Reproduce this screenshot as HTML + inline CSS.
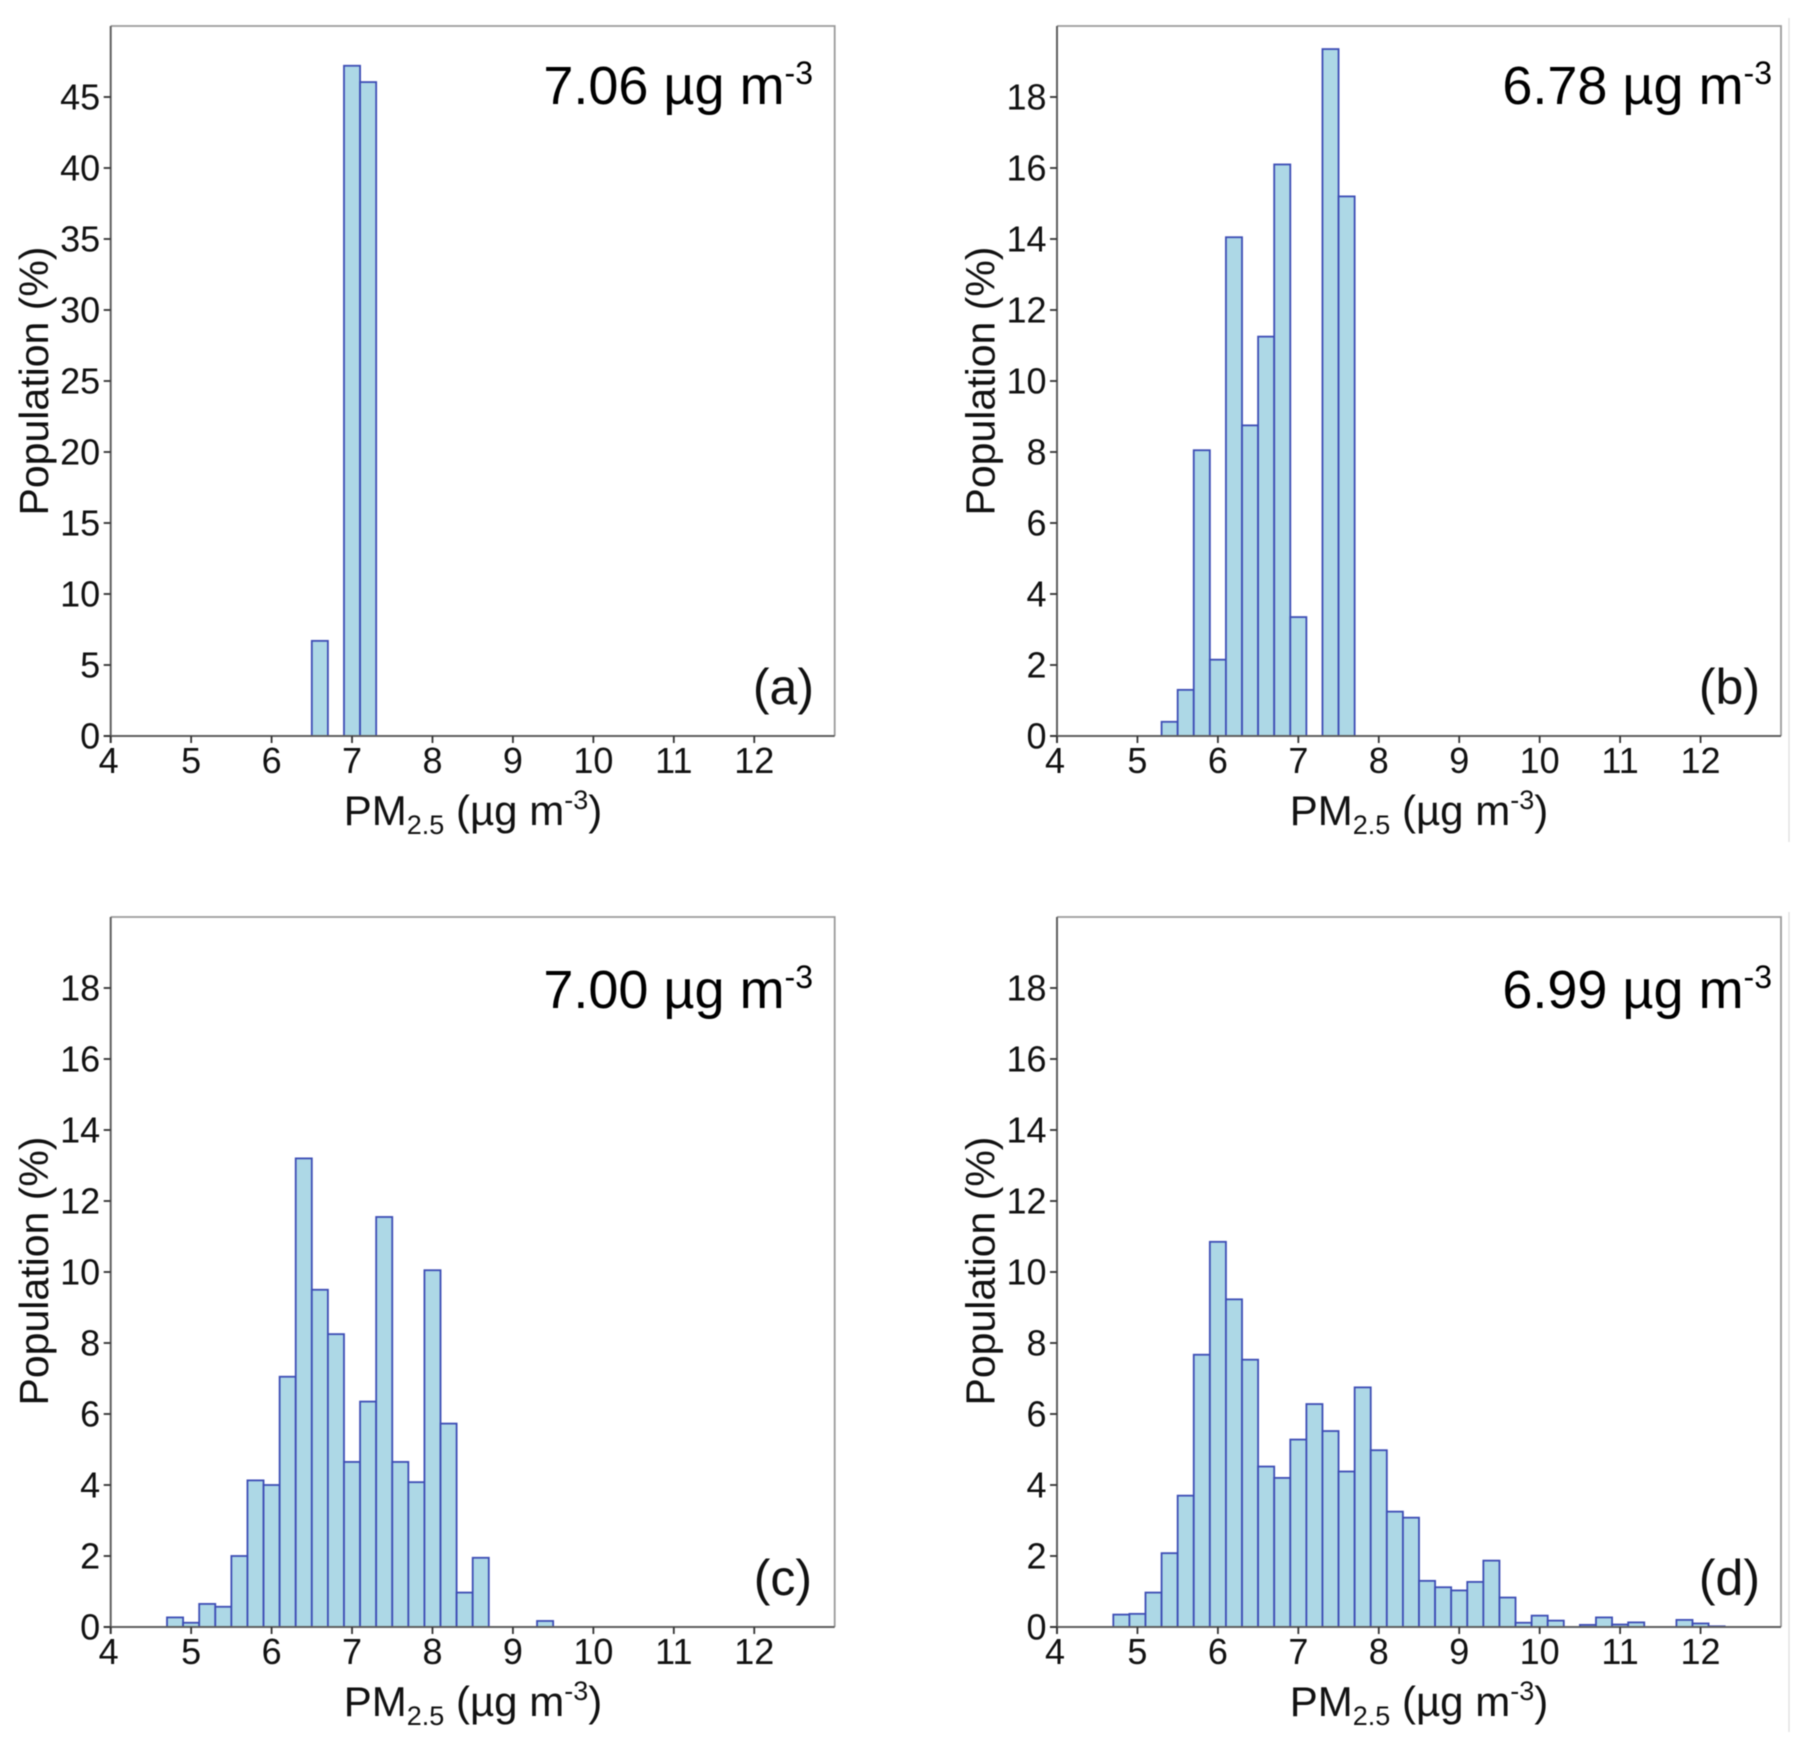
<!DOCTYPE html>
<html lang="en">
<head>
<meta charset="utf-8">
<title>PM2.5 population histograms</title>
<style>
html,body{margin:0;padding:0;background:#fff;}
svg{display:block;filter:blur(0.45px);}
text{font-family:"Liberation Sans",Arial,sans-serif;fill:#111;}
.tick{font-size:36px;}
.ytitle{font-size:41px;}
.xtitle{font-size:42px;}
.ann{font-size:54px;fill:#000;}
.tag{font-size:50px;}
</style>
</head>
<body>
<svg id="figure" xmlns="http://www.w3.org/2000/svg" width="1808" height="1759" viewBox="0 0 1808 1759">
  <rect x="0" y="0" width="1808" height="1759" fill="#fff"/>
  <line x1="1789" y1="18" x2="1789" y2="842" stroke="#dddddd" stroke-width="1.2"/>
  <line x1="1789" y1="912" x2="1789" y2="1732" stroke="#dddddd" stroke-width="1.2"/>

  <g id="panel-a"></g>
  <g id="panel-b"></g>
  <g id="panel-c"></g>
  <g id="panel-d"></g>

  <g>
    <text class="ytitle" text-anchor="middle" transform="translate(48,381) rotate(-90)">Population (%)</text>
    <text class="xtitle" text-anchor="middle" x="473" y="825">PM<tspan font-size="27" dy="9">2.5</tspan><tspan dy="-9"> (µg m</tspan><tspan font-size="27" dy="-16">-3</tspan><tspan dy="16">)</tspan></text>
    <text class="ann" text-anchor="end" x="813" y="104">7.06 µg m<tspan font-size="32" dy="-20">-3</tspan></text>
    <text class="tag" text-anchor="end" x="814" y="704">(a)</text>
  </g>
  <g>
    <text class="ytitle" text-anchor="middle" transform="translate(994.3,381) rotate(-90)">Population (%)</text>
    <text class="xtitle" text-anchor="middle" x="1419" y="825">PM<tspan font-size="27" dy="9">2.5</tspan><tspan dy="-9"> (µg m</tspan><tspan font-size="27" dy="-16">-3</tspan><tspan dy="16">)</tspan></text>
    <text class="ann" text-anchor="end" x="1772" y="104">6.78 µg m<tspan font-size="32" dy="-20">-3</tspan></text>
    <text class="tag" text-anchor="end" x="1760" y="704">(b)</text>
  </g>
  <g>
    <text class="ytitle" text-anchor="middle" transform="translate(48,1271) rotate(-90)">Population (%)</text>
    <text class="xtitle" text-anchor="middle" x="473" y="1716">PM<tspan font-size="27" dy="9">2.5</tspan><tspan dy="-9"> (µg m</tspan><tspan font-size="27" dy="-16">-3</tspan><tspan dy="16">)</tspan></text>
    <text class="ann" text-anchor="end" x="813" y="1008">7.00 µg m<tspan font-size="32" dy="-20">-3</tspan></text>
    <text class="tag" text-anchor="end" x="812" y="1595">(c)</text>
  </g>
  <g>
    <text class="ytitle" text-anchor="middle" transform="translate(994.3,1271) rotate(-90)">Population (%)</text>
    <text class="xtitle" text-anchor="middle" x="1419" y="1716">PM<tspan font-size="27" dy="9">2.5</tspan><tspan dy="-9"> (µg m</tspan><tspan font-size="27" dy="-16">-3</tspan><tspan dy="16">)</tspan></text>
    <text class="ann" text-anchor="end" x="1772" y="1008">6.99 µg m<tspan font-size="32" dy="-20">-3</tspan></text>
    <text class="tag" text-anchor="end" x="1760" y="1595">(d)</text>
  </g>
</svg>

<script>
// Shared x axis
const xTickLabels = [4, 5, 6, 7, 8, 9, 10, 11, 12];
const binWidth = 0.2;

// Panel (a)
const binsA = [6.5, 6.7, 6.9, 7.1];
const valuesA = [6.7, 0, 47.2, 46.05];
const yTicksA = [0, 5, 10, 15, 20, 25, 30, 35, 40, 45];

// Panel (b)
const binsB = [5.3, 5.5, 5.7, 5.9, 6.1, 6.3, 6.5, 6.7, 6.9, 7.1, 7.3, 7.5];
const valuesB = [0.4, 1.3, 8.05, 2.15, 14.05, 8.75, 11.25, 16.1, 3.35, 0, 19.35, 15.2];
const yTicksB = [0, 2, 4, 6, 8, 10, 12, 14, 16, 18];

// Panel (c)
const binsC = [4.7, 4.9, 5.1, 5.3, 5.5, 5.7, 5.9, 6.1, 6.3, 6.5, 6.7, 6.9, 7.1, 7.3, 7.5, 7.7, 7.9, 8.1, 8.3, 8.5, 8.7, 8.9, 9.1, 9.3];
const valuesC = [0.27, 0.12, 0.65, 0.57, 2.0, 4.13, 4.0, 7.05, 13.2, 9.5, 8.25, 4.65, 6.35, 11.55, 4.65, 4.08, 10.05, 5.73, 0.97, 1.95, 0, 0, 0, 0.17];
const yTicksC = [0, 2, 4, 6, 8, 10, 12, 14, 16, 18];

// Panel (d)
const binsD = [4.7, 4.9, 5.1, 5.3, 5.5, 5.7, 5.9, 6.1, 6.3, 6.5, 6.7, 6.9, 7.1, 7.3, 7.5, 7.7, 7.9, 8.1, 8.3, 8.5, 8.7, 8.9, 9.1, 9.3, 9.5, 9.7, 9.9, 10.1, 10.3, 10.5, 10.7, 10.9, 11.1, 11.3, 11.5, 11.7, 11.9, 12.1];
const valuesD = [0.35, 0.37, 0.97, 2.08, 3.7, 7.67, 10.85, 9.23, 7.53, 4.52, 4.2, 5.28, 6.28, 5.52, 4.38, 6.75, 4.98, 3.25, 3.08, 1.3, 1.12, 1.03, 1.27, 1.87, 0.83, 0.12, 0.32, 0.18, 0, 0.06, 0.27, 0.07, 0.13, 0, 0, 0.2, 0.1, 0.02];
const yTicksD = [0, 2, 4, 6, 8, 10, 12, 14, 16, 18];

const X_MIN = 4, X_MAX = 13;
const PANEL_W = 724, PANEL_H = 710;
const SVG_NS = 'http://www.w3.org/2000/svg';

function make(tag, attrs, parent) {
  const el = document.createElementNS(SVG_NS, tag);
  for (const k in attrs) el.setAttribute(k, attrs[k]);
  parent.appendChild(el);
  return el;
}

function drawPanel(id, left, top, yMax, bins, values, yTicks) {
  const g = document.getElementById('panel-' + id);
  const bottom = top + PANEL_H;
  const right = left + PANEL_W;
  const xScale = function (v) { return left + (v - X_MIN) / (X_MAX - X_MIN) * PANEL_W; };
  const yScale = function (v) { return bottom - v / yMax * PANEL_H; };

  const frame = make('path', {
    d: 'M' + left + ' ' + top + 'H' + right + 'V' + bottom,
    fill: 'none', stroke: '#9a9a9a', 'stroke-width': 1.8
  }, g);
  
  

  bins.forEach(function (start, i) {
    if (values[i] <= 0) return;
    const x0 = xScale(start);
    const x1 = xScale(start + binWidth);
    const y = yScale(values[i]);
    const bar = make('rect', {
      x: x0, y: y, width: x1 - x0, height: bottom - y,
      fill: '#add8e6', stroke: '#3d4db5', 'stroke-width': 1.8
    }, g);
    
    
  });

  const yAxis = make('line', { x1: left, y1: top, x2: left, y2: bottom + 7, stroke: '#5f5f5f', 'stroke-width': 2 }, g);
  
  

  const xAxis = make('line', { x1: left - 7, y1: bottom, x2: right, y2: bottom, stroke: '#5f5f5f', 'stroke-width': 2 }, g);
  
  

  xTickLabels.forEach(function (v) {
    const x = xScale(v);
    const tick = make('line', { x1: x, y1: bottom, x2: x, y2: bottom + 7, stroke: '#333', 'stroke-width': 1.8 }, g);
    
    
    const label = make('text', { x: v === X_MIN ? x - 2 : x, y: bottom + 37, class: 'tick', 'text-anchor': 'middle' }, g);
    
    
    label.textContent = v;
  });

  yTicks.forEach(function (v) {
    const y = yScale(v);
    const tick = make('line', { x1: left - 7, y1: y, x2: left, y2: y, stroke: '#333', 'stroke-width': 1.8 }, g);
    
    
    const label = make('text', { x: left - 10.5, y: y + 12.5, class: 'tick', 'text-anchor': 'end' }, g);
    
    
    label.textContent = v;
  });
}

drawPanel('a', 110.7, 26, 50, binsA, valuesA, yTicksA);
drawPanel('b', 1057, 26, 20, binsB, valuesB, yTicksB);
drawPanel('c', 110.7, 917, 20, binsC, valuesC, yTicksC);
drawPanel('d', 1057, 917, 20, binsD, valuesD, yTicksD);
</script>
</body>
</html>
